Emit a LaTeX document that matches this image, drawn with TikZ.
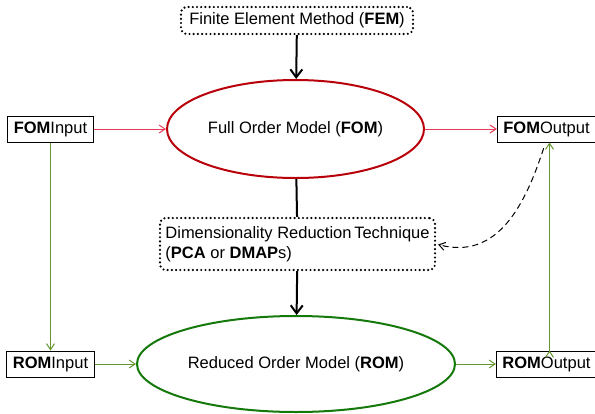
\documentclass[tikz,border=0pt]{standalone}
\usepackage{fontspec}
\setmainfont{Liberation Sans}
\usepackage{tikz}
\usetikzlibrary{positioning}
\usetikzlibrary{shapes.geometric}
\usetikzlibrary{arrows.meta}
\definecolor{fomred}{RGB}{185,0,10}
\definecolor{linkred}{RGB}{230,60,90}
\definecolor{romgreen}{RGB}{20,120,10}
\definecolor{linkgreen}{RGB}{100,150,50}
\newcommand{\tb}[1]{\textbf{#1}}

\begin{document}
\begin{tikzpicture}[x=1pt,y=-1pt,on grid,font=\fontsize{16.5}{20}\selectfont,
		tip/.style={-{Straight Barb[length=8pt,width=12pt]}},
		thin tip/.style={-{Straight Barb[length=6pt,width=8pt]}},
		io/.style={rectangle,draw=black,line width=1pt,inner xsep=6pt,minimum height=26pt},
		model/.style={ellipse,line width=2pt,inner sep=0pt},
		method/.style={rectangle,rounded corners=6pt,draw=black,line width=2.4pt,line cap=round,dash pattern=on 0pt off 4.2pt}]
		\useasboundingbox (0,0) rectangle (595,413);
		
		\node[model,draw=fomred,minimum width=257pt,minimum height=98pt] (fom) at (295.5,129) {Full Order Model (\tb{FOM})};
		\node[method,minimum width=232pt,minimum height=27pt] (fem) at (297,20.5) {Finite Element Method (\tb{FEM})};
		\node[method,minimum width=275pt,minimum height=52pt,align=left] (dr) at (297.5,244) {Dimensionality Reduction\,Technique\\(\tb{PCA} or \tb{DMAP}s)};
		\node[model,draw=romgreen,minimum width=318pt,minimum height=96pt] (rom) at (296,364) {Reduced Order Model (\tb{ROM})};
		
		\node[io] (fomin)  [left=245pt of fom]     {\tb{FOM}Input};
		\node[io] (fomout) [right=251pt of fom]    {\tb{FOM}Output};
		\node[io] (romin)  [below=235pt of fomin]  {\tb{ROM}Input};
		\node[io] (romout) [below=235pt of fomout] {\tb{ROM}Output};
		
		% main chain
		\draw[tip,line width=2pt] (fem) -- (fom);
		\draw[line width=2pt] (fom) -- (dr);
		\draw[tip,line width=2pt] (dr) -- (rom);
		
		% full order side
		\path[thin tip,draw=linkred,line width=1pt]
		(fomin) edge (fom)
		(fom) edge (fomout);
		
		% reduced order side
		\path[thin tip,draw=linkgreen,line width=1pt]
		(fomin) edge (romin)
		(romin) edge (rom)
		(rom) edge (romout)
		([xshift=3pt]romout.north) edge ([xshift=3pt]fomout.south);
		
		% feedback
		\draw[thin tip,dash pattern=on 6pt off 4pt,line width=1pt,shorten <=6pt,shorten >=2pt]
		([xshift=-1pt]fomout.south) to[out=-108,in=-15,looseness=1.1] (dr.east);
		\end{tikzpicture}
\end{document}
